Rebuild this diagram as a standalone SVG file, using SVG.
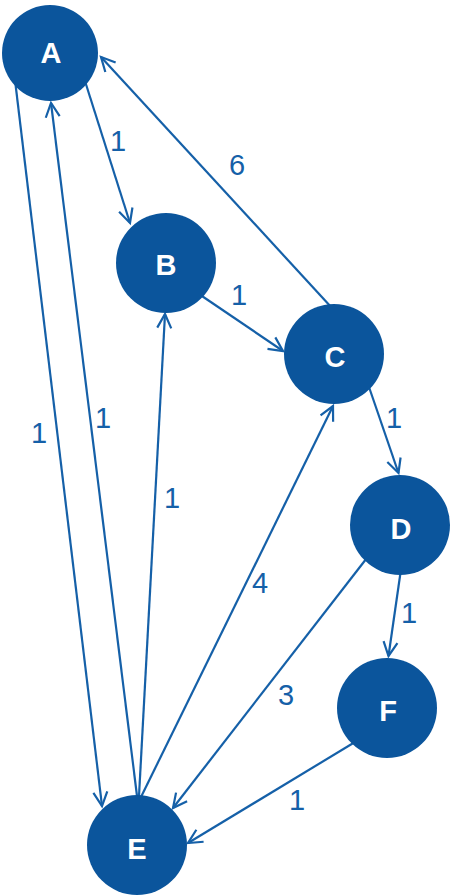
<svg xmlns="http://www.w3.org/2000/svg" width="450" height="896" viewBox="0 0 450 896">
  <style>
    .edge { stroke: #1560a8; stroke-width: 2.2; fill: none; marker-end: url(#arr); }
    .node circle { fill: #0b559c; }
    .node text { font-family: "Liberation Sans", Arial, sans-serif; font-weight: bold; font-size: 29px; fill: #ffffff; text-anchor: middle; }
    .lbl { font-family: "Liberation Sans", Arial, sans-serif; font-size: 29px; fill: #1560a8; text-anchor: middle; }
  </style>
  <defs>
    <marker id="arr" markerUnits="userSpaceOnUse" markerWidth="20" markerHeight="20" viewBox="-16 -10 20 20" refX="0" refY="0" orient="auto">
      <path d="M -14,-7 L 0,0 L -14,7" stroke="#1560a8" stroke-width="2.2" fill="none"/>
    </marker>
  </defs>
  <rect width="450" height="896" fill="#ffffff"/>
  <g id="connectors">
    <line class="edge" x1="12.6" y1="60" x2="102" y2="806"/>
    <line class="edge" x1="137" y1="796" x2="51" y2="103"/>
    <line class="edge" x1="139" y1="796" x2="165" y2="314"/>
    <line class="edge" x1="141" y1="797" x2="333" y2="406"/>
    <line class="edge" x1="84" y1="78" x2="130" y2="223"/>
    <line class="edge" x1="332" y1="308" x2="101" y2="57"/>
    <line class="edge" x1="196" y1="292" x2="283" y2="351"/>
    <line class="edge" x1="366.6" y1="380" x2="398.5" y2="473"/>
    <line class="edge" x1="401.6" y1="565" x2="388.5" y2="656"/>
    <line class="edge" x1="370" y1="554" x2="173" y2="808"/>
    <line class="edge" x1="360" y1="739" x2="188" y2="843"/>
    <text class="lbl" x="118" y="151">1</text>
    <text class="lbl" x="237" y="175">6</text>
    <text class="lbl" x="239" y="305">1</text>
    <text class="lbl" x="394" y="428">1</text>
    <text class="lbl" x="409" y="623">1</text>
    <text class="lbl" x="39" y="443">1</text>
    <text class="lbl" x="103" y="428">1</text>
    <text class="lbl" x="172" y="508">1</text>
    <text class="lbl" x="260" y="593">4</text>
    <text class="lbl" x="286" y="705">3</text>
    <text class="lbl" x="297" y="810">1</text>
  </g>
  <g id="node-A" class="node"><circle cx="50" cy="53" r="48"/><text x="51" y="63">A</text></g>
  <g id="node-B" class="node"><circle cx="166" cy="263" r="50"/><text x="166" y="275">B</text></g>
  <g id="node-C" class="node"><circle cx="334" cy="354" r="50"/><text x="335" y="367">C</text></g>
  <g id="node-D" class="node"><circle cx="400" cy="525" r="50"/><text x="401" y="539">D</text></g>
  <g id="node-F" class="node"><circle cx="387" cy="708" r="50"/><text x="388" y="721">F</text></g>
  <g id="node-E" class="node"><circle cx="137" cy="845" r="50"/><text x="137" y="859">E</text></g>
</svg>
